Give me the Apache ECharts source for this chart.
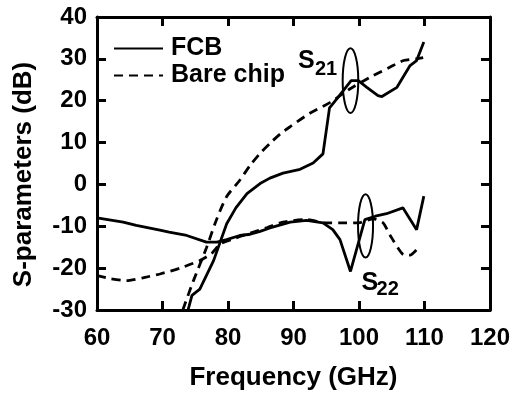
<!DOCTYPE html>
<html>
<head>
<meta charset="utf-8">
<script src="https://cdn.jsdelivr.net/npm/echarts@6/dist/echarts.min.js"></script>
<style>
  html, body { margin: 0; padding: 0; background: #fff; }
  #chart { width: 513px; height: 396px; }
</style>
</head>
<body>
<div id="chart"></div>
<script>
// Frequency (GHz) / dB pairs for each measured trace
const fcbS21Freq = [73.9, 74.5, 75.7, 77.8, 79.8, 81.2, 82.9, 84.9, 86.4, 88.4, 91.0, 93.0, 94.5, 95.5, 96.8, 98.8, 99.9, 101.2, 102.9, 103.5, 105.8, 107.8, 108.8, 109.9];
const fcbS21Val  = [-30.0, -26.5, -25.0, -18.2, -9.4, -5.6, -2.2, 0.2, 1.5, 2.7, 3.6, 5.1, 7.3, 18.3, 20.8, 24.8, 24.8, 23.2, 21.2, 21.0, 23.2, 28.4, 29.6, 34.0];

const bareS21Freq = [73.1, 74.7, 76.7, 78.2, 79.8, 81.8, 83.4, 85.0, 86.4, 88.0, 89.5, 92.5, 95.6, 98.6, 101.7, 104.7, 106.8, 108.8, 109.8];
const bareS21Val  = [-30.0, -23.1, -15.2, -8.6, -2.9, 1.0, 4.6, 7.6, 9.8, 12.1, 13.8, 17.0, 19.6, 22.8, 25.6, 28.0, 29.6, 30.0, 30.3];

const fcbS22Freq = [60, 64, 66, 69.6, 71, 73.7, 76.7, 78.3, 79.8, 81.8, 83.4, 84.9, 86.4, 89.5, 92, 94.5, 96, 97.1, 98.7, 100.9, 102.5, 104.2, 106.7, 108.8, 109.9];
const fcbS22Val  = [-8.0, -9.0, -9.8, -10.9, -11.4, -12.2, -13.8, -13.8, -13.2, -12.2, -11.9, -11.2, -10.4, -9.0, -8.6, -9.2, -10.8, -13.2, -20.8, -8.4, -7.6, -7.0, -5.6, -10.8, -2.8];

const bareS22Freq = [60, 62, 64.5, 67, 69.6, 72.7, 75.7, 77.5, 78.8, 80.5, 83.4, 86, 88.4, 92, 95.1, 98.1, 100.2, 102.2, 103.7, 104.7, 106.8, 107.8, 108.8];
const bareS22Val  = [-21.8, -22.5, -23.0, -22.3, -21.4, -20.0, -18.2, -16.5, -14.2, -13.2, -11.6, -10.3, -9.0, -8.4, -9.2, -9.2, -9.1, -8.2, -9.2, -12.0, -16.8, -16.9, -15.6];

// Ellipse markers grouping the S21 and S22 traces
const markFreq = [98.7, 101.0];
const markVal  = [24.8, -9.9];
const markSub  = ['21', '22'];

// Axis tick settings
const xMin = 60, xMax = 120, xStep = 10;
const yMin = -30, yMax = 40, yStep = 10;

const pairs = (xs, ys) => xs.map((x, i) => [x, ys[i]]);

const FONT = '"Liberation Sans", Arial, Helvetica, sans-serif';
const axisLineStyle = { color: '#000', width: 3 };
const tickStyle = { show: true, inside: true, length: 9, lineStyle: { color: '#000', width: 3 } };

const solid = { color: '#000', width: 2.8, type: 'solid' };
const dashed = { color: '#000', width: 2.8, type: [9, 6] };

function lineSeries(name, xs, ys, style, smooth) {
  return {
    type: 'line', name: name, data: pairs(xs, ys),
    symbol: 'none', showSymbol: false, smooth: smooth,
    lineStyle: style, itemStyle: { color: '#000' },
    xAxisIndex: 0, yAxisIndex: 0, z: 3
  };
}

// Pixel layout of the ellipse labels relative to each ellipse centre
const markLayout = [
  { rx: 7.8, ry: 32.3, sx: -52.5, sy: -19.2, bx: -35.5, by: -11.2 },
  { rx: 7.5, ry: 31.7, sx: -4, sy: 57.6, bx: 11, by: 63.8 }
];

const chart = echarts.init(document.getElementById('chart'), null, { renderer: 'canvas' });

chart.setOption({
  animation: false,
  backgroundColor: '#fff',
  grid: { left: 97, right: 23, top: 17, bottom: 85, containLabel: false },
  legend: {
    data: ['FCB', 'Bare chip'],
    orient: 'vertical',
    left: 113, top: 36, padding: 0,
    itemWidth: 49, itemHeight: 14, itemGap: 2,
    itemStyle: { color: 'transparent', borderColor: 'transparent', borderWidth: 0, opacity: 0 },
    textStyle: { fontFamily: FONT, fontWeight: 'bold', fontSize: 25, color: '#000', padding: [0, 0, 0, 3] },
    selectedMode: false
  },
  xAxis: [{
    type: 'value', min: xMin, max: xMax, interval: xStep, position: 'bottom',
    axisLine: { show: true, onZero: false, lineStyle: axisLineStyle },
    axisTick: tickStyle,
    splitLine: { show: false },
    axisLabel: { fontFamily: FONT, fontWeight: 'bold', fontSize: 24, color: '#000', margin: 16 },
    name: 'Frequency (GHz)', nameLocation: 'middle', nameGap: 55,
    nameTextStyle: { fontFamily: FONT, fontWeight: 'bold', fontSize: 26, color: '#000' }
  }, {
    type: 'value', min: xMin, max: xMax, interval: xStep, position: 'top',
    axisLine: { show: true, onZero: false, lineStyle: axisLineStyle },
    axisTick: tickStyle, axisLabel: { show: false }, splitLine: { show: false }
  }],
  yAxis: [{
    type: 'value', min: yMin, max: yMax, interval: yStep, position: 'left',
    axisLine: { show: true, onZero: false, lineStyle: axisLineStyle },
    axisTick: tickStyle,
    splitLine: { show: false },
    axisLabel: { fontFamily: FONT, fontWeight: 'bold', fontSize: 24, color: '#000', margin: 10 },
    name: 'S-parameters (dB)', nameLocation: 'middle', nameGap: 60,
    nameTextStyle: { fontFamily: FONT, fontWeight: 'bold', fontSize: 26, color: '#000', padding: [0, 22, 0, 0] }
  }, {
    type: 'value', min: yMin, max: yMax, interval: yStep, position: 'right',
    axisLine: { show: true, onZero: false, lineStyle: axisLineStyle },
    axisTick: tickStyle, axisLabel: { show: false }, splitLine: { show: false }
  }],
  series: [
    lineSeries('FCB', fcbS21Freq, fcbS21Val, solid, false),
    lineSeries('Bare chip', bareS21Freq, bareS21Val, dashed, 0.25),
    lineSeries('FCB', fcbS22Freq, fcbS22Val, solid, false),
    lineSeries('Bare chip', bareS22Freq, bareS22Val, dashed, 0.2),
    {
      type: 'custom', name: 'marks', coordinateSystem: 'cartesian2d',
      xAxisIndex: 0, yAxisIndex: 0, z: 4, silent: true,
      data: pairs(markFreq, markVal),
      renderItem: function (params, api) {
        const c = api.coord([api.value(0), api.value(1)]);
        const L = markLayout[params.dataIndex];
        return {
          type: 'group',
          children: [
            { type: 'ellipse', shape: { cx: c[0], cy: c[1], rx: L.rx, ry: L.ry },
              style: { fill: 'none', stroke: '#000', lineWidth: 2 } },
            { type: 'text', x: c[0] + L.sx, y: c[1] + L.sy,
              style: { text: 'S', fill: '#000', font: 'bold 25px ' + FONT, align: 'left', verticalAlign: 'middle' } },
            { type: 'text', x: c[0] + L.bx, y: c[1] + L.by,
              style: { text: markSub[params.dataIndex], fill: '#000', font: 'bold 20px ' + FONT, align: 'left', verticalAlign: 'middle' } }
          ]
        };
      }
    }
  ]
});
</script>
</body>
</html>
